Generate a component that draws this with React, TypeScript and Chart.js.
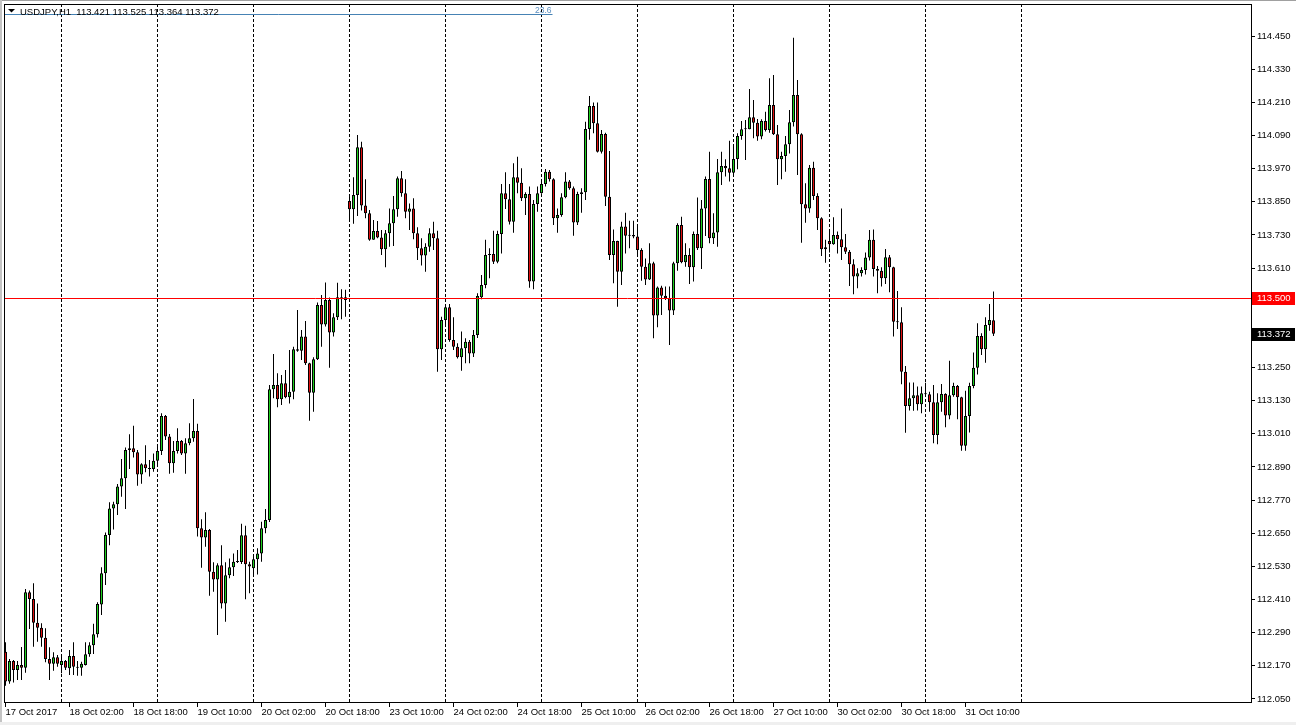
import React, { useEffect, useRef } from 'react';
import { Chart, registerables } from 'chart.js';

Chart.register(...registerables);

// ---- Data (USDJPY, H1, first bar 17 Oct 2017 10:00) ----
const symbolTitle = 'USDJPY,H1';

const opens = [
  112.221,112.113,112.188,112.155,112.173,112.163,112.436,112.412,112.326,112.308,
  112.272,112.195,112.178,112.201,112.173,112.188,112.161,112.206,112.167,112.163,
  112.173,112.212,112.245,112.284,112.392,112.505,112.644,112.740,112.755,112.819,
  112.849,112.951,112.958,112.943,112.863,112.900,112.885,112.883,112.912,112.948,
  113.074,113.000,112.903,112.948,112.984,112.939,112.976,112.994,113.020,112.668,
  112.635,112.662,112.511,112.483,112.534,112.396,112.498,112.527,112.547,112.546,
  112.643,112.538,112.523,112.556,112.577,112.668,112.698,113.171,113.187,113.135,
  113.193,113.142,113.162,113.316,113.311,113.362,113.265,113.159,113.280,113.476,
  113.406,113.494,113.377,113.432,113.497,113.504,113.853,113.823,113.874,114.047,
  113.836,113.808,113.712,113.744,113.721,113.678,113.736,113.772,113.823,113.935,
  113.881,113.814,113.826,113.736,113.682,113.655,113.687,113.736,113.718,113.316,
  113.422,113.468,113.350,113.325,113.287,113.320,113.343,113.301,113.368,113.504,
  113.549,113.657,113.661,113.633,113.733,113.881,113.859,113.778,113.939,113.919,
  113.863,113.878,113.561,113.842,113.881,113.914,113.959,113.931,113.790,113.802,
  113.866,113.923,113.899,113.775,113.878,113.884,114.113,114.197,114.134,114.031,
  114.095,113.868,113.657,113.708,113.597,113.760,113.727,113.730,113.724,113.675,
  113.615,113.569,113.627,113.438,113.540,113.510,113.501,113.456,113.627,113.766,
  113.631,113.657,113.613,113.733,113.682,113.826,113.932,113.718,113.739,113.957,
  113.979,113.971,113.955,114.005,114.088,114.116,114.112,114.156,114.136,114.086,
  114.142,114.110,114.200,114.094,114.004,114.016,114.058,114.138,114.236,114.094,
  113.841,113.826,113.973,113.871,113.790,113.678,113.708,113.696,113.730,113.714,
  113.685,113.669,113.624,113.579,113.591,113.603,113.648,113.712,113.607,113.600,
  113.573,113.649,113.613,113.416,113.414,113.235,113.111,113.139,113.150,113.117,
  113.157,113.153,113.124,113.006,113.124,113.154,113.076,113.150,113.183,113.142,
  112.967,113.074,113.183,113.249,113.364,113.316,113.404,113.421,
];

const highs = [
  112.255,112.195,112.191,112.188,112.238,112.448,112.443,112.469,112.396,112.324,
  112.306,112.237,112.219,112.209,112.209,112.191,112.227,112.255,112.188,112.185,
  112.255,112.255,112.322,112.400,112.527,112.653,112.762,112.764,112.828,112.919,
  112.960,113.008,113.039,112.951,112.903,112.969,112.915,112.939,112.969,113.084,
  113.078,113.009,112.984,113.030,112.988,112.994,113.048,113.136,113.046,112.701,
  112.726,112.665,112.545,112.541,112.607,112.545,112.559,112.577,112.589,112.684,
  112.677,112.547,112.571,112.596,112.692,112.738,113.187,113.299,113.229,113.223,
  113.241,113.313,113.325,113.458,113.386,113.418,113.267,113.287,113.485,113.512,
  113.558,113.503,113.446,113.557,113.533,113.531,113.868,113.939,114.092,114.067,
  113.931,113.820,113.784,113.780,113.748,113.748,113.826,113.871,113.941,113.961,
  113.931,113.844,113.863,113.758,113.718,113.700,113.754,113.778,113.745,113.434,
  113.480,113.480,113.432,113.338,113.380,113.356,113.350,113.386,113.519,113.585,
  113.712,113.682,113.745,113.745,113.914,113.957,113.914,113.989,114.013,113.971,
  113.884,113.905,113.856,113.905,113.925,113.969,113.965,113.935,113.826,113.881,
  113.957,113.929,113.905,113.886,113.899,114.140,114.233,114.209,114.209,114.110,
  114.100,114.034,113.750,113.709,113.778,113.810,113.781,113.781,113.766,113.682,
  113.645,113.700,113.633,113.543,113.546,113.543,113.543,113.633,113.772,113.796,
  113.700,113.682,113.742,113.865,113.856,113.941,114.031,113.808,114.005,114.031,
  114.004,114.071,114.049,114.098,114.142,114.146,114.258,114.218,114.150,114.149,
  114.176,114.297,114.309,114.128,114.031,114.088,114.182,114.444,114.291,114.098,
  113.917,113.983,113.995,113.881,113.794,113.712,113.742,113.794,113.742,113.826,
  113.733,113.675,113.642,113.609,113.613,113.666,113.748,113.750,113.617,113.613,
  113.679,113.657,113.615,113.527,113.468,113.255,113.196,113.196,113.181,113.181,
  113.195,113.162,113.187,113.157,113.190,113.157,113.274,113.195,113.187,113.144,
  113.166,113.195,113.304,113.410,113.374,113.432,113.480,113.525,
];

const lows = [
  112.098,112.105,112.110,112.119,112.119,112.145,112.303,112.239,112.257,112.239,
  112.183,112.119,112.152,112.167,112.143,112.155,112.137,112.137,112.134,112.134,
  112.171,112.203,112.213,112.273,112.354,112.463,112.607,112.664,112.716,112.782,
  112.738,112.883,112.924,112.822,112.829,112.871,112.855,112.873,112.897,112.933,
  112.988,112.865,112.869,112.939,112.933,112.865,112.969,112.981,112.638,112.525,
  112.601,112.424,112.438,112.282,112.378,112.330,112.487,112.495,112.542,112.539,
  112.411,112.433,112.501,112.501,112.547,112.650,112.691,113.139,113.106,113.114,
  113.139,113.120,113.135,113.307,113.277,113.259,113.057,113.090,113.277,113.325,
  113.398,113.249,113.362,113.422,113.425,113.434,113.787,113.770,113.798,113.818,
  113.790,113.709,113.712,113.718,113.657,113.613,113.687,113.690,113.796,113.868,
  113.790,113.748,113.714,113.639,113.619,113.597,113.669,113.675,113.235,113.277,
  113.404,113.343,113.313,113.283,113.238,113.265,113.265,113.288,113.357,113.497,
  113.537,113.573,113.625,113.627,113.663,113.824,113.768,113.738,113.881,113.853,
  113.802,113.539,113.533,113.814,113.879,113.905,113.923,113.766,113.738,113.796,
  113.863,113.893,113.727,113.766,113.810,113.856,114.074,114.098,114.028,114.025,
  113.835,113.639,113.555,113.470,113.549,113.663,113.682,113.718,113.657,113.564,
  113.549,113.567,113.356,113.396,113.440,113.494,113.331,113.440,113.600,113.627,
  113.615,113.552,113.561,113.675,113.607,113.726,113.700,113.697,113.687,113.911,
  113.941,113.923,113.949,113.968,114.074,114.001,114.112,114.080,114.071,114.076,
  114.104,114.100,114.092,113.911,113.931,113.959,114.025,114.122,113.947,113.702,
  113.774,113.810,113.856,113.748,113.654,113.629,113.666,113.694,113.663,113.639,
  113.661,113.545,113.515,113.537,113.579,113.587,113.637,113.579,113.519,113.543,
  113.552,113.522,113.362,113.389,113.189,113.014,113.094,113.093,113.094,113.084,
  113.144,113.090,112.976,112.972,113.090,113.034,113.063,113.144,113.063,112.949,
  112.949,113.015,113.175,113.225,113.295,113.267,113.383,113.364,
];

const closes = [
  112.113,112.188,112.155,112.173,112.163,112.436,112.412,112.326,112.308,112.272,
  112.195,112.178,112.201,112.178,112.188,112.163,112.206,112.167,112.163,112.178,
  112.212,112.245,112.284,112.394,112.505,112.644,112.740,112.755,112.819,112.849,
  112.951,112.958,112.943,112.863,112.900,112.885,112.883,112.912,112.948,113.074,
  113.000,112.903,112.948,112.984,112.939,112.976,112.994,113.020,112.668,112.635,
  112.662,112.511,112.483,112.534,112.396,112.498,112.527,112.547,112.546,112.643,
  112.538,112.530,112.556,112.577,112.668,112.698,113.171,113.187,113.135,113.193,
  113.142,113.162,113.316,113.311,113.362,113.265,113.159,113.280,113.476,113.406,
  113.494,113.377,113.432,113.504,113.504,113.494,113.823,113.874,114.047,113.836,
  113.808,113.712,113.744,113.721,113.678,113.736,113.772,113.823,113.935,113.881,
  113.814,113.826,113.736,113.682,113.655,113.687,113.736,113.718,113.316,113.422,
  113.468,113.350,113.325,113.287,113.320,113.343,113.301,113.368,113.509,113.549,
  113.657,113.661,113.633,113.733,113.881,113.859,113.778,113.939,113.919,113.863,
  113.878,113.561,113.842,113.881,113.914,113.959,113.931,113.790,113.802,113.866,
  113.923,113.899,113.775,113.878,113.884,114.113,114.197,114.134,114.031,114.095,
  113.868,113.657,113.708,113.597,113.760,113.727,113.730,113.724,113.675,113.615,
  113.569,113.627,113.438,113.540,113.510,113.501,113.456,113.627,113.766,113.631,
  113.657,113.613,113.733,113.682,113.826,113.932,113.718,113.739,113.957,113.979,
  113.971,113.955,114.005,114.088,114.112,114.112,114.156,114.136,114.086,114.142,
  114.110,114.200,114.094,114.004,114.016,114.058,114.138,114.236,114.094,113.841,
  113.826,113.973,113.871,113.790,113.678,113.685,113.696,113.730,113.714,113.685,
  113.669,113.624,113.579,113.591,113.603,113.648,113.712,113.607,113.600,113.573,
  113.649,113.613,113.416,113.414,113.235,113.111,113.139,113.150,113.117,113.157,
  113.153,113.124,113.006,113.124,113.154,113.076,113.150,113.183,113.142,112.967,
  113.074,113.183,113.249,113.364,113.316,113.404,113.422,113.372,
];

// time-axis labels and the bar index they belong to
const xTickLabels = [
  '17 Oct 2017', '18 Oct 02:00', '18 Oct 18:00', '19 Oct 10:00', '20 Oct 02:00',
  '20 Oct 18:00', '23 Oct 10:00', '24 Oct 02:00', '24 Oct 18:00', '25 Oct 10:00',
  '26 Oct 02:00', '26 Oct 18:00', '27 Oct 10:00', '30 Oct 02:00', '30 Oct 18:00',
  '31 Oct 10:00',
];
const xTickBars = [0, 16, 32, 48, 64, 80, 96, 112, 128, 144, 160, 176, 192, 208, 224, 240];

// bar index of each day start (period separators)
const daySeparatorBars = [14, 38, 62, 86, 110, 134, 158, 182, 206, 230, 254];

const yTickValues = [
  112.05, 112.17, 112.29, 112.41, 112.53, 112.65, 112.77, 112.89, 113.01, 113.13,
  113.25, 113.37, 113.49, 113.61, 113.73, 113.85, 113.97, 114.09, 114.21, 114.33, 114.45,
];

const priceLine = 113.5;
const fibLevel = 114.527;
const fibLabel = '23.6';
const fibEndBar = 136.75;

const BULL = '#1ED01E';
const BEAR = '#E01010';
const FONT = '"Liberation Sans", Arial, sans-serif';
const FONT_SIZE = 9.5;

export default function App() {
  const ref = useRef<HTMLCanvasElement>(null);

  useEffect(() => {
    const canvas = ref.current;
    if (!canvas) return;
    const n = closes.length;
    const bodies = closes.map((c, i) => ({ x: i, y: [opens[i], c] }));
    const wicks = closes.map((_, i) => ({ x: i, y: [lows[i], highs[i]] }));
    const colors = closes.map((c, i) => (c >= opens[i] ? BULL : BEAR));
    const fontStr = `${FONT_SIZE}px ${FONT}`;

    const decor = {
      id: 'mt4decor',
      beforeDraw(chart: any) {
        const { ctx, width, height } = chart;
        ctx.save();
        ctx.fillStyle = '#ffffff';
        ctx.fillRect(0, 0, width, height);
        ctx.fillStyle = '#a0a0a0';
        ctx.fillRect(0, 0, width, 1);
        ctx.fillStyle = '#c4c4c4';
        ctx.fillRect(0, 0, 2, height);
        ctx.fillStyle = '#efefef';
        ctx.fillRect(0, height - 3, width, 3);
        ctx.restore();
      },
      beforeDatasetsDraw(chart: any) {
        const { ctx, chartArea: a, scales } = chart;
        ctx.save();
        ctx.strokeStyle = '#000000';
        ctx.lineWidth = 1;
        ctx.setLineDash([3, 2]);
        daySeparatorBars.forEach((b) => {
          const x = Math.floor(scales.x.getPixelForValue(b)) + 0.5;
          ctx.beginPath();
          ctx.moveTo(x, a.top);
          ctx.lineTo(x, a.bottom);
          ctx.stroke();
        });
        ctx.restore();
      },
      afterDatasetsDraw(chart: any) {
        const { ctx, chartArea: a, scales } = chart;
        ctx.save();
        ctx.lineWidth = 1;
        // horizontal price line
        const py = Math.floor(scales.y.getPixelForValue(priceLine)) + 0.5;
        ctx.strokeStyle = '#ff0000';
        ctx.beginPath();
        ctx.moveTo(a.left, py);
        ctx.lineTo(a.right, py);
        ctx.stroke();
        // fibonacci level
        const fy = Math.floor(scales.y.getPixelForValue(fibLevel)) + 0.5;
        const fx = scales.x.getPixelForValue(fibEndBar);
        ctx.strokeStyle = '#4682b4';
        ctx.beginPath();
        ctx.moveTo(a.left, fy);
        ctx.lineTo(fx, fy);
        ctx.stroke();
        ctx.fillStyle = '#5b8fc0';
        ctx.font = `8.5px ${FONT}`;
        ctx.textAlign = 'right';
        ctx.textBaseline = 'alphabetic';
        ctx.fillText(fibLabel, fx - 1, fy - 2);
        // frame
        ctx.strokeStyle = '#000000';
        ctx.strokeRect(a.left + 0.5, a.top + 0.5, a.right - a.left, a.bottom - a.top - 1);
        // header
        ctx.fillStyle = '#000000';
        ctx.beginPath();
        ctx.moveTo(8, 9);
        ctx.lineTo(15, 9);
        ctx.lineTo(11.5, 12.5);
        ctx.closePath();
        ctx.fill();
        ctx.font = fontStr;
        ctx.textAlign = 'left';
        ctx.textBaseline = 'middle';
        const header = `${symbolTitle}  ${opens[n - 1].toFixed(3)} ${highs[n - 1].toFixed(3)} ${lows[n - 1].toFixed(3)} ${closes[n - 1].toFixed(3)}`;
        ctx.fillText(header, 20, 12);
        ctx.restore();
      },
      afterDraw(chart: any) {
        const { ctx, chartArea: a, scales } = chart;
        ctx.save();
        ctx.font = fontStr;
        ctx.textAlign = 'left';
        ctx.textBaseline = 'middle';
        const box = (value: number, bg: string) => {
          const y = scales.y.getPixelForValue(value);
          const top = Math.round(y) - 6;
          ctx.fillStyle = bg;
          ctx.fillRect(a.right + 1, top, 43, 13);
          ctx.fillStyle = '#ffffff';
          ctx.fillText(value.toFixed(3), a.right + 6, top + 6.5);
        };
        box(priceLine, '#ff0000');
        box(closes[n - 1], '#000000');
        ctx.restore();
      },
    };

    const chart = new Chart(canvas, {
      type: 'bar',
      data: {
        datasets: [
          {
            label: 'body',
            data: bodies as any,
            backgroundColor: colors,
            borderColor: '#000000',
            borderWidth: 1,
            borderSkipped: false,
            barThickness: 3,
            minBarLength: 1,
            inflateAmount: 0,
            grouped: false,
            order: 0,
          } as any,
          {
            label: 'wick',
            data: wicks as any,
            backgroundColor: '#000000',
            borderWidth: 0,
            barThickness: 1,
            minBarLength: 1,
            inflateAmount: 0,
            grouped: false,
            order: 1,
          } as any,
        ],
      },
      plugins: [decor],
      options: {
        animation: false,
        responsive: false,
        devicePixelRatio: 1,
        events: [],
        layout: { padding: { left: 4, top: 4, right: 0, bottom: 0 } },
        plugins: { legend: { display: false }, tooltip: { enabled: false } },
        scales: {
          x: {
            type: 'linear',
            min: -0.375,
            max: 311.375,
            offset: false,
            grid: { drawOnChartArea: false, drawTicks: true, tickLength: 4, color: '#000000', offset: false },
            border: { display: false },
            ticks: {
              autoSkip: false,
              maxRotation: 0,
              minRotation: 0,
              align: 'start',
              padding: 0,
              color: '#000000',
              font: { family: FONT, size: FONT_SIZE },
              callback: (v: any) => {
                const k = xTickBars.indexOf(Number(v));
                return k >= 0 ? xTickLabels[k] : null;
              },
            },
            afterBuildTicks: (scale: any) => {
              scale.ticks = xTickBars.map((b) => ({ value: b }));
            },
            afterFit: (scale: any) => {
              scale.height = 22;
              scale.paddingLeft = 0;
              scale.paddingRight = 0;
            },
          } as any,
          y: {
            type: 'linear',
            position: 'right',
            min: 112.03552,
            max: 114.56584,
            bounds: 'data',
            beginAtZero: false,
            grid: { drawOnChartArea: false, drawTicks: true, tickLength: 4, color: '#000000' },
            border: { display: false },
            ticks: {
              padding: 2,
              color: '#000000',
              font: { family: FONT, size: FONT_SIZE },
              callback: (v: any) => Number(v).toFixed(3),
            },
            afterBuildTicks: (scale: any) => {
              scale.ticks = yTickValues.map((v) => ({ value: v }));
            },
            afterFit: (scale: any) => {
              scale.width = 45;
              scale.paddingTop = 0;
              scale.paddingBottom = 0;
            },
          } as any,
        },
      },
    });
    return () => chart.destroy();
  }, []);

  return (
    <div style={{ position: 'fixed', left: 0, top: 0, width: 1296, height: 725, background: '#ffffff' }}>
      <canvas ref={ref} width={1296} height={725} style={{ display: 'block', width: 1296, height: 725 }} />
    </div>
  );
}
